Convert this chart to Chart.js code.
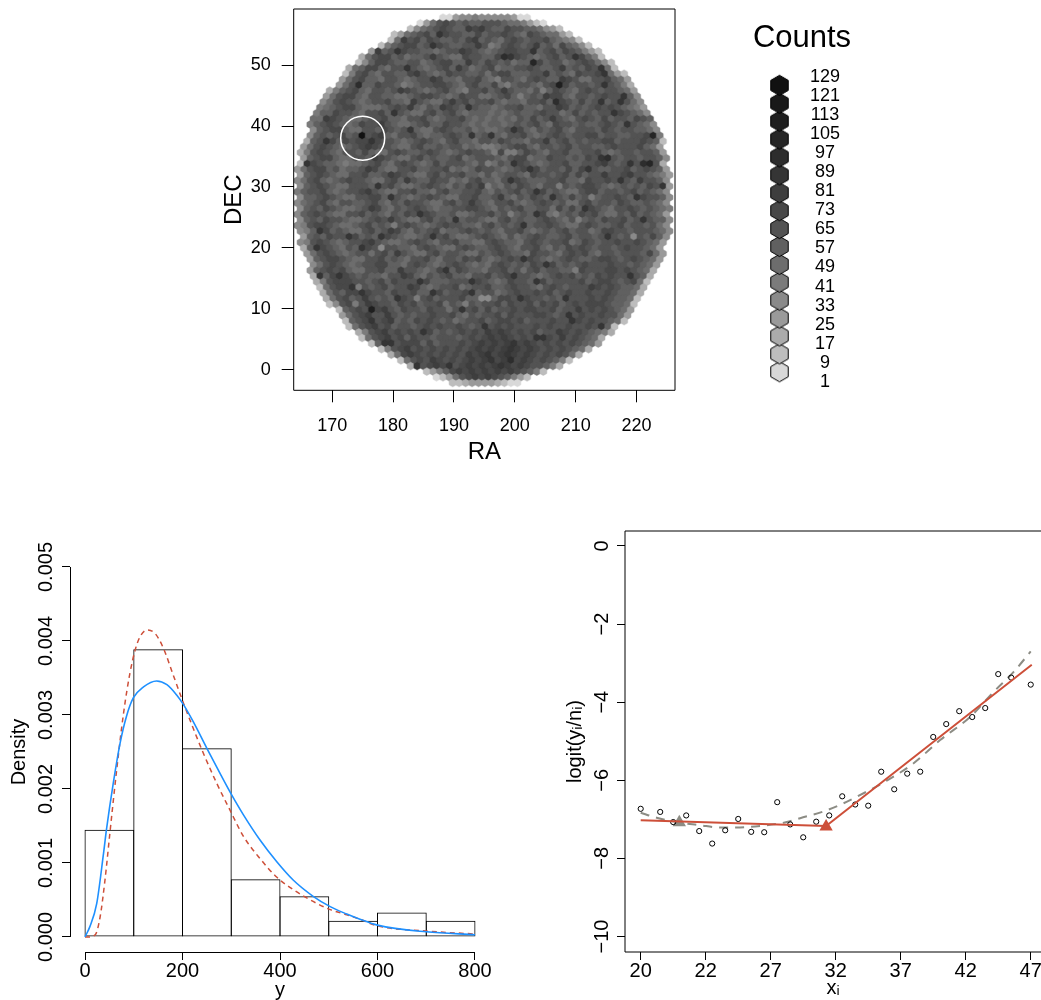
<!DOCTYPE html>
<html>
<head>
<meta charset="utf-8">
<script src="https://cdn.jsdelivr.net/npm/chart.js@4/dist/chart.umd.min.js"></script>
<style>
  html, body { margin: 0; background: #fff; width: 1041px; height: 1000px; overflow: hidden; }
  canvas { position: absolute; }
</style>
</head>
<body>
<canvas id="hexPanel" width="490" height="480" style="left:200px;top:0"></canvas>
<canvas id="hexLegend" width="124" height="400" style="left:740px;top:0"></canvas>
<canvas id="histPanel" width="500" height="460" style="left:0;top:540px"></canvas>
<canvas id="logitPanel" width="481" height="480" style="left:560px;top:520px"></canvas>
<script>
// top panel: shade level of each hex cell, one string per row from the top (0 lightest .. g darkest)
const hexRows = [
  "00344544444300",
  "03689878778887665310",
  "146789877a9a877988776431",
  "1367897b98877978898769876631",
  "16a8979877879a7876898788976541",
  "15789978b9" + "87788a8568" + "9878a78697" + "641",
  "3a78b98877" + "6788a98767" + "89988b7897" + "987531",
  "2689978677" + "8a87669887" + "79cb987678" + "978b9751",
  "1479987788" + "6789977a87" + "9878677d97" + "8867898641",
  "267997688b" + "8767897a86" + "7896778898" + "778a78798b" + "61",
  "1589768877" + "9a87679887" + "7868997778" + "8a78769889" + "b631",
  "3689776887" + "6788a97768" + "8976588768" + "9877a98668" + "89763",
  "368c779887" + "5678899876" + "8977965788" + "7689e97887" + "8b8752",
  "2578976887" + "8a98767897" + "6588978a87" + "7685798768" + "98788763",
  "3689976887" + "7667899876" + "7988667897" + "5787a99768" + "878988b74",
  "4689876788" + "9776a87668" + "a897889767" + "768897c987" + "978b78b864",
  "5678997666" + "7898a7687a" + "987b877678" + "8977688a97" + "87898987653",
  "5779887688" + "97b8766897" + "8976777676" + "7877898867" + "978788b98764",
  "66a9876678" + "8977688976" + "7889767676" + "7687978a87" + "6898797887" + "987",
  "5789876798" + "8a87667897" + "7988767677" + "6787897698" + "878778987b" + "8764",
  "4789976688" + "79878b7668" + "9877867667" + "8b97687897" + "6888798788" + "7764",
  "47878978g8" + "9a76889767" + "78987b78b7" + "6889767898" + "7889978877" + "889d5",
  "278b979899" + "b988767898" + "7689776887" + "9877688a78" + "9787889978" + "889871",
  "3689876789" + "a988766897" + "7878867655" + "6789976887" + "8978877898" + "889763",
  "2589876887" + "9766898778" + "9876789887" + "5955798768" + "8977889767" + "8878873",
  "3789976688" + "7a98766897" + "8778967888" + "7689967798" + "878798bc87" + "8878874",
  "1b98776566" + "7897689876" + "7978887685" + "687b987678" + "8977889a87" + "8b8cd82",
  "3689978677" + "8a97668897" + "7889676798" + "876789b978" + "87979b8778" + "89789873",
  "3789876688" + "9778a98766" + "8978897768" + "6788769887" + "8979788a88" + "9a887653",
  "4689767898" + "8766897a87" + "7988676897" + "768b987778" + "8977698898" + "b87a8874",
  "4789876688" + "87b8976678" + "98768798a5" + "7687987688" + "5878998767" + "878798b3",
  "5788976788" + "9a87668897" + "7689778897" + "6878978b97" + "8766899788" + "78978764",
  "4778987668" + "8997b87678" + "9876688977" + "8a7687987b" + "8797857889" + "87b98874",
  "4678976887" + "7897687988" + "7668978a87" + "6889767898" + "7866897887" + "98778764",
  "4787987667" + "8a97687898" + "7677889987" + "6878977886" + "9797b98768" + "89878765",
  "4789876688" + "978768798b" + "9877866788" + "9785787b96" + "5787989766" + "87978763",
  "4787988766" + "7898a87668" + "9787b78876" + "6897877898" + "7685787988" + "978b8774",
  "4589987667" + "8978758987" + "6789887768" + "97878b7889" + "8766898778" + "97887864",
  "457b978766" + "8978a97687" + "8967789878" + "7688976787" + "8978867998" + "87888764",
  "3787988b97" + "87b9876678" + "b897667898" + "7686789877" + "8978878b87" + "8487974",
  "4589876788" + "9a87667898" + "7688977668" + "9877689878" + "8967987889" + "8898763",
  "27b987687b" + "9848877689" + "8766898778" + "9876889768" + "7989878878" + "988763",
  "3689876788" + "6897a87668" + "9788766878" + "9877698876" + "8989768878" + "887963",
  "3789987668" + "8978768897" + "6887989767" + "898b987678" + "9877899878" + "98763",
  "4689876788" + "9977689876" + "7898767689" + "878798b978" + "7898889887" + "8763",
  "3789897668" + "8977a88767" + "9b79877688" + "9786897887" + "7598889989" + "8762",
  "2b79b98787" + "7688a97687" + "8977688978" + "9b88767898" + "978798988b" + "872",
  "2589998878" + "979888b977" + "7888b98767" + "9887b97888" + "8978998789" + "61",
  "16899b5878" + "9788a97678" + "8967889778" + "9887689878" + "88a98987762",
  "268799b988" + "7988977b97" + "889b788678" + "9889897898" + "8988987762",
  "268978a878" + "7b98589788" + "8977447998" + "b988787b88" + "898987761",
  "148958a988" + "7989788968" + "7587889798" + "8979897898" + "99987761",
  "17898e9a87" + "988798868b" + "8979788989" + "9889788a89" + "898763",
  "3689a88a87" + "8788988976" + "8788979888" + "99878b8988" + "98863",
  "1789b89a78" + "7989878678" + "8978998978" + "88988b9898" + "8761",
  "1689a89788" + "7898988987" + "8b89898889" + "898898898b" + "71",
  "2589a89898" + "b978789898" + "a9a9898978" + "8a98987652",
  "1689a89798" + "8788878989" + "a9a9898bb9" + "8a898762",
  "17bb899979" + "7888989a9a" + "9ab9a98989" + "898763",
  "1589a89898" + "98989a9a9a" + "ba9a989898" + "762",
  "269a989898" + "98a9ab9aba" + "9a98989862",
  "16898a9898" + "9a9ab9ac9a" + "9898751",
  "2b89a9b89a" + "9a9aba9a98" + "8752",
  "13579a9a9a" + "9a9a98751",
  "013689a9a987531",
  "11233332100"
];

// legend
const levelCounts = [1, 9, 17, 25, 33, 41, 49, 57, 65, 73, 81, 89, 97, 105, 113, 121, 129];
const levelColors = ["#d8d8d8", "#bdbdbd", "#ababab", "#9a9a9a", "#8a8a8a", "#7b7b7b", "#6d6d6d", "#606060", "#535353",
  "#484848", "#3e3e3e", "#353535", "#2d2d2d", "#262626", "#1f1f1f", "#191919", "#111111"];

const raTicks = [170, 180, 190, 200, 210, 220];
const decTicks = [0, 10, 20, 30, 40, 50];
const circledSource = [{ x: 175, y: 38 }];

// bottom left panel
const histMids = [50, 150, 250, 350, 450, 550, 650, 750];
const histDensity = [0.00145, 0.00389, 0.00255, 0.00078, 0.00055, 0.00022, 0.00033, 0.00022];
const densityX = [0, 10, 24, 38, 44, 58, 72, 85, 99, 120, 147, 168, 188, 202, 222, 250, 277, 300, 325, 359, 393, 427, 468, 503, 537, 564, 600, 700, 800];
const blueDensity = [0, 0.00014, 0.00045, 0.00113, 0.00145, 0.00208, 0.00262, 0.00298, 0.00323, 0.00338, 0.00346, 0.00341, 0.00327, 0.00314, 0.00291, 0.00255, 0.00221, 0.00193, 0.00165, 0.00131, 0.00102, 0.00077, 0.00055, 0.00041, 0.00031, 0.00024, 0.00016, 0.00007, 0.00003];
const redX = [0, 7, 21, 31, 41, 51, 65, 79, 92, 103, 113, 128, 144, 161, 181, 202, 222, 243, 270, 297, 325, 359, 393, 427, 468, 503, 537, 564, 600, 700, 800];
const redDensity = [0, 0, 0.00003, 0.00027, 0.00077, 0.0014, 0.00226, 0.00302, 0.00356, 0.00388, 0.00406, 0.00415, 0.0041, 0.0039, 0.00354, 0.00316, 0.00282, 0.00248, 0.00208, 0.00172, 0.00136, 0.00106, 0.00081, 0.00064, 0.00048, 0.00037, 0.0003, 0.00024, 0.00015, 0.00008, 0.00004];
const histXTicks = [0, 200, 400, 600, 800];
const histYTicks = [0, 0.001, 0.002, 0.003, 0.004, 0.005];

// bottom right panel (x is the position along the axis, labels below are the printed ones)
const logitX = [0, 1.5, 2.5, 3.5, 4.5, 5.5, 6.5, 7.5, 8.5, 9.5, 10.5, 11.5, 12.5, 13.5, 14.5, 15.5, 16.5, 17.5, 18.5, 19.5, 20.5, 21.5, 22.5, 23.5, 24.5, 25.5, 26.5, 27.5, 28.5, 30];
const logitY = [-6.73, -6.81, -7.07, -6.90, -7.30, -7.62, -7.28, -6.99, -7.32, -7.33, -6.56, -7.13, -7.46, -7.06, -6.90, -6.41, -6.62, -6.65, -5.78, -6.23, -5.83, -5.78, -4.89, -4.56, -4.23, -4.38, -4.15, -3.28, -3.37, -3.55];
const fitX = [0, 14.26, 30.08];
const fitY = [-7.02, -7.17, -3.04];
const smoothX = [0, 1.23, 2.97, 4.56, 6.1, 7.38, 9.18, 11.23, 12.26, 14.05, 15.33, 17.38, 18.92, 20.97, 23.03, 25.33, 27.13, 28.67, 30];
const smoothY = [-6.83, -6.96, -7.08, -7.15, -7.21, -7.21, -7.17, -7.07, -6.97, -6.80, -6.63, -6.29, -6.01, -5.57, -4.97, -4.38, -3.74, -3.23, -2.70];
const logitXTicks = [0, 5, 10, 15, 20, 25, 30];
const logitXLabels = ["20", "22", "27", "32", "37", "42", "47"];
const logitYTicks = [-10, -8, -6, -4, -2, 0];

const FONT = "'Liberation Sans', Arial, sans-serif";
Chart.defaults.font.family = FONT;
Chart.defaults.color = "#000";
Chart.defaults.animation = false;
Chart.defaults.events = [];
Chart.defaults.plugins.legend.display = false;
Chart.defaults.plugins.tooltip.enabled = false;

// hexagon sprites used as point styles
function hexSprite(color, r, stroke) {
  const c = document.createElement("canvas");
  c.width = Math.ceil(r * 2) + 4;
  c.height = Math.ceil(r * 2) + 4;
  const g = c.getContext("2d");
  g.beginPath();
  for (let i = 0; i < 6; i++) {
    const a = Math.PI / 3 * i;
    g.lineTo(c.width / 2 + r * Math.sin(a), c.height / 2 - r * Math.cos(a));
  }
  g.closePath();
  g.fillStyle = color;
  g.fill();
  if (stroke) {
    g.strokeStyle = stroke;
    g.lineWidth = 1;
    g.stroke();
  }
  return c;
}

// R style axis lines and boxes
const frame = {
  id: "frame",
  afterDatasetsDraw(chart, args, opts) {
    const { left, right, top, bottom } = chart.chartArea;
    const g = chart.ctx;
    g.save();
    g.strokeStyle = "#000";
    g.lineWidth = 1;
    g.beginPath();
    if (opts.box) {
      g.rect(left, top, right - left, bottom - top);
    }
    if (opts.open) {
      g.moveTo(right, top);
      g.lineTo(left, top);
      g.lineTo(left, bottom);
      g.lineTo(right, bottom);
    }
    if (opts.rAxes) {
      const x = chart.scales.x, y = chart.scales.y;
      g.moveTo(left + 0.5, y.getPixelForValue(histYTicks[0]));
      g.lineTo(left + 0.5, y.getPixelForValue(histYTicks[histYTicks.length - 1]));
      g.moveTo(x.getPixelForValue(histXTicks[0]), bottom + 0.5);
      g.lineTo(x.getPixelForValue(histXTicks[histXTicks.length - 1]), bottom + 0.5);
    }
    g.stroke();
    g.restore();
  }
};

function axis(min, max, tickValues, size, tickLength, fontSize, pad, title, extra) {
  return Object.assign({
    type: "linear",
    min: min,
    max: max,
    offset: false,
    afterBuildTicks: (s) => { s.ticks = tickValues.map((v) => ({ value: v })); },
    afterFit: (s) => {
      if (s.isHorizontal()) s.height = size; else s.width = size;
      // no room reserved for overhanging labels
      s.paddingLeft = s.paddingRight = s.paddingTop = s.paddingBottom = 0;
    },
    border: { display: false },
    grid: { drawOnChartArea: false, drawTicks: true, tickLength: tickLength, color: "#000", offset: false },
    ticks: { autoSkip: false, maxRotation: 0, font: { size: fontSize }, padding: pad },
    title: title
  }, extra || {});
}

// top panel
const RA_MID = 194.98, RA_0 = 188.19, RA_STEP = 1.0633, DEC_TOP = 57.76, DEC_STEP = 0.9211;
const hexCells = [];
const hexLevels = [];
hexRows.forEach((row, r) => {
  const odd = r % 2;
  const start = Math.round((RA_MID - (row.length - 1) * RA_STEP / 2 - RA_0 - odd * RA_STEP / 2) / RA_STEP);
  row.split("").forEach((ch, i) => {
    hexCells.push({ x: RA_0 + (start + i + odd / 2) * RA_STEP, y: DEC_TOP - r * DEC_STEP });
    hexLevels.push(parseInt(ch, 36));
  });
});
// the lower layer only closes the hairline gaps between neighbouring cells
const hexUnder = levelColors.map((c) => hexSprite(c, 4.2));
const hexOver = levelColors.map((c) => hexSprite(c, 3.85));

new Chart(document.getElementById("hexPanel"), {
  type: "scatter",
  data: {
    datasets: [
      { data: circledSource, pointStyle: "circle", pointRadius: 22, backgroundColor: "transparent", borderColor: "#fff", borderWidth: 1.5, order: 0 },
      { data: hexCells, pointStyle: hexLevels.map((l) => hexOver[l]), pointRadius: 4, borderWidth: 0, order: 1 },
      { data: hexCells, pointStyle: hexLevels.map((l) => hexUnder[l]), pointRadius: 4, borderWidth: 0, order: 2 }
    ]
  },
  options: {
    responsive: false,
    layout: { autoPadding: false, padding: { top: 9, right: 15 } },
    plugins: { frame: { box: true } },
    scales: {
      x: axis(163.66, 226.33, raTicks, 89.7, 12, 18, 13, { display: true, text: "RA", font: { size: 24 }, padding: { top: 0, bottom: 13.6 } }),
      y: axis(-3.36, 59.2, decTicks, 93.7, 12, 18, 11, { display: true, text: "DEC", font: { size: 24 }, padding: { top: 19.6, bottom: 0 } })
    }
  },
  plugins: [frame]
});

// Counts legend
const legendHexes = levelCounts.map((c, i) => ({ x: 39.5, y: i }));
const legendLabelTicks = levelCounts.map((c, i) => i);
new Chart(document.getElementById("hexLegend"), {
  type: "scatter",
  data: {
    datasets: [{
      data: legendHexes,
      pointStyle: levelColors.map((c) => hexSprite(c, 10.1, "#000")),
      pointRadius: 10,
      borderWidth: 0,
      yAxisID: "y"
    }]
  },
  options: {
    responsive: false,
    layout: { autoPadding: false, padding: { bottom: 5 } },
    plugins: {
      title: { display: true, text: "Counts", font: { size: 31, weight: "normal", lineHeight: 1 }, color: "#000", padding: { top: 23, bottom: 0 } }
    },
    scales: {
      x: { type: "linear", display: false, min: 0, max: 70 },
      y: { type: "linear", display: false, min: -1.3, max: 17.75 },
      yL: axis(-0.7, 17.22, legendLabelTicks, 54, 0, 18, 0, { display: false }, {
        position: "right",
        grid: { display: false, drawTicks: false },
        ticks: { autoSkip: false, font: { size: 18 }, padding: 0, crossAlign: "center", callback: (v) => levelCounts[v] }
      })
    }
  }
});

// histogram with the two density curves
new Chart(document.getElementById("histPanel"), {
  type: "bar",
  data: {
    datasets: [
      { type: "line", data: densityX.map((x, i) => ({ x: x, y: blueDensity[i] })), borderColor: "#1e90ff", borderWidth: 1.6, pointRadius: 0, cubicInterpolationMode: "monotone", order: 0 },
      { type: "line", data: redX.map((x, i) => ({ x: x, y: redDensity[i] })), borderColor: "#cd4f39", borderWidth: 1.5, borderDash: [5, 4], pointRadius: 0, cubicInterpolationMode: "monotone", order: 1 },
      {
        type: "bar",
        data: histMids.map((x, i) => ({ x: x, y: histDensity[i] })),
        backgroundColor: "transparent",
        borderColor: "#000",
        borderSkipped: false,
        borderWidth: 1,
        // a touch wider than the bin so neighbouring edges fall on one line
        barPercentage: 1.02,
        categoryPercentage: 1,
        order: 2
      }
    ]
  },
  options: {
    responsive: false,
    layout: { autoPadding: false, padding: { top: 12, right: 10 } },
    plugins: { frame: { rAxes: true } },
    scales: {
      x: axis(-30.77, 830.77, histXTicks, 48, 8, 20, -1, { display: true, text: "y", font: { size: 20, lineHeight: 1 }, padding: { top: 0, bottom: 0 } }),
      y: axis(-0.000203, 0.0052027, histYTicks, 70, 8, 20, -10, { display: true, text: "Density", font: { size: 20, lineHeight: 1 }, padding: { top: 9, bottom: 0 } }, {
        ticks: { autoSkip: false, minRotation: 90, maxRotation: 90, crossAlign: "center", padding: -10, font: { size: 20 }, callback: (v) => v.toFixed(3) }
      })
    }
  },
  plugins: [frame]
});

// logit panel
new Chart(document.getElementById("logitPanel"), {
  type: "scatter",
  data: {
    datasets: [
      { data: [{ x: fitX[1], y: -7.19 }], pointStyle: "triangle", pointRadius: 7.7, backgroundColor: "#cd4f39", borderWidth: 0, order: 0 },
      { data: fitX.map((x, i) => ({ x: x, y: fitY[i] })), showLine: true, borderColor: "#cd4f39", borderWidth: 2, pointRadius: 0, order: 1 },
      { data: logitX.map((x, i) => ({ x: x, y: logitY[i] })), pointStyle: "circle", pointRadius: 2.6, backgroundColor: "transparent", borderColor: "#000", borderWidth: 1, order: 2 },
      { data: [{ x: 2.97, y: -7.08 }], pointStyle: "triangle", pointRadius: 7.7, backgroundColor: "#8c8c84", borderWidth: 0, order: 3 },
      { data: smoothX.map((x, i) => ({ x: x, y: smoothY[i] })), showLine: true, borderColor: "#8c8c84", borderWidth: 2, borderDash: [9, 7], pointRadius: 0, cubicInterpolationMode: "monotone", order: 4 }
    ]
  },
  options: {
    responsive: false,
    layout: { autoPadding: false, padding: { top: 11, right: 0 } },
    plugins: { frame: { open: true } },
    scales: {
      x: axis(-1.208, 30.79, logitXTicks, 48, 8, 20, -1, { display: true, text: "xᵢ", font: { size: 20, lineHeight: 1 }, padding: { top: 0, bottom: 2 } }, {
        ticks: { autoSkip: false, maxRotation: 0, font: { size: 20 }, padding: -1, callback: (v, i) => logitXLabels[i] }
      }),
      y: axis(-10.397, 0.384, logitYTicks, 65, 8, 20, -2, { display: true, text: "logit(yᵢ/nᵢ)", font: { size: 20, lineHeight: 1 }, padding: { top: 5, bottom: 0 } }, {
        ticks: { autoSkip: false, minRotation: 90, maxRotation: 90, crossAlign: "center", padding: -2, font: { size: 20 }, callback: (v) => String(v).replace("-", "−") }
      })
    }
  },
  plugins: [frame]
});
</script>
</body>
</html>
